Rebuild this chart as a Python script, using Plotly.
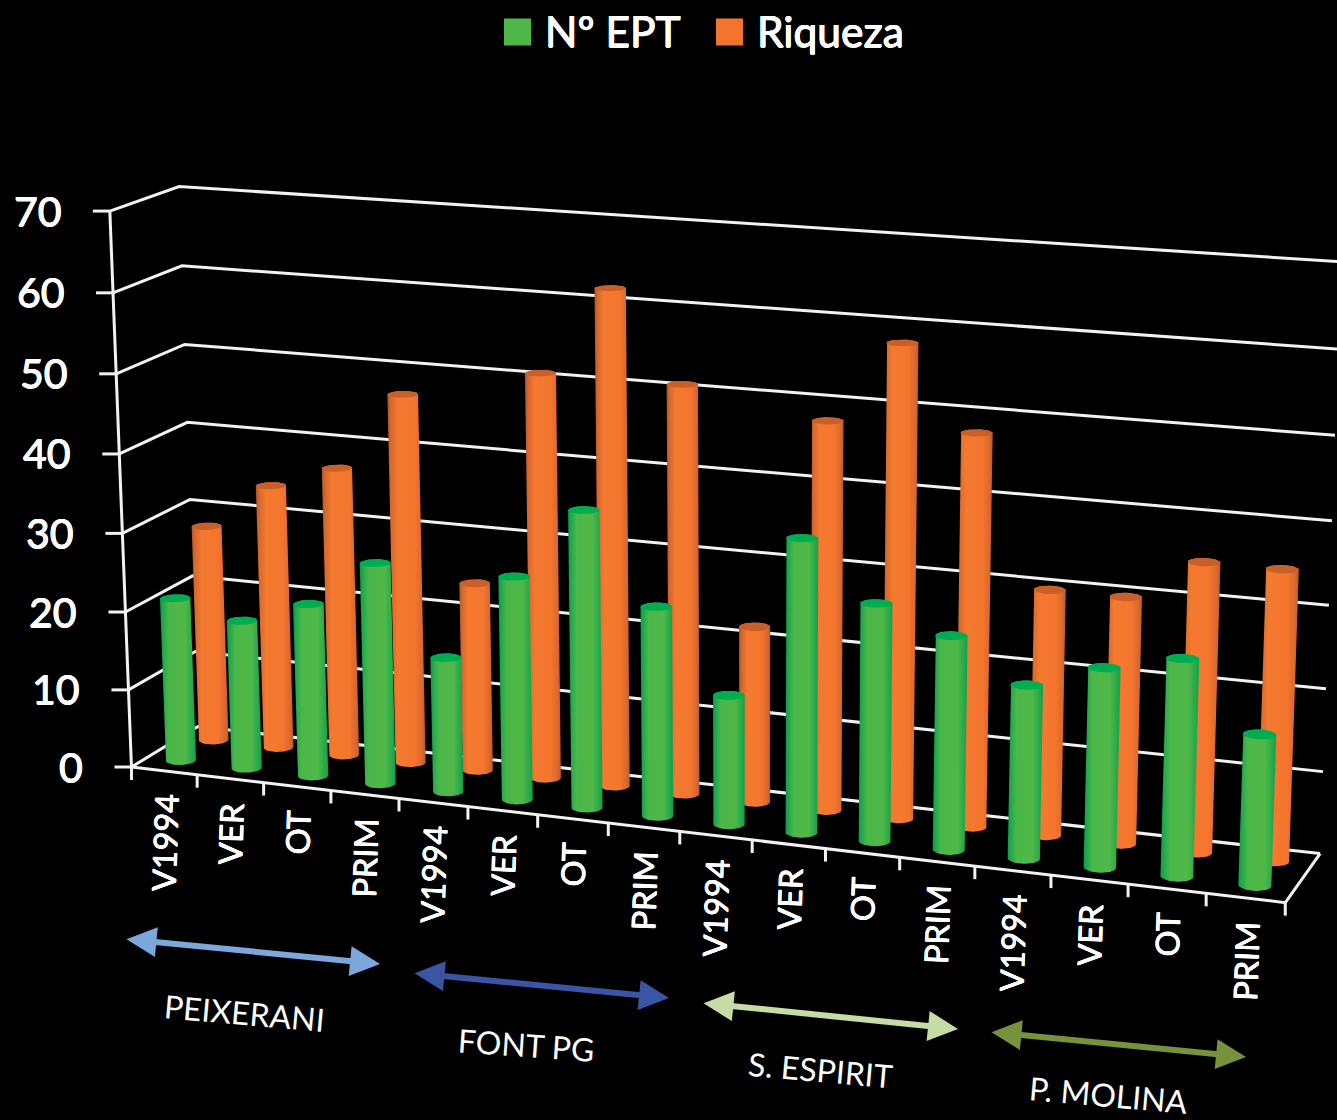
import numpy as np
import plotly.graph_objects as go

# ---- data ----
sites = ["PEIXERANI", "FONT PG", "S. ESPIRIT", "P. MOLINA"]
periods = ["V1994", "VER", "OT", "PRIM"]
categories = periods * 4
n_ept = [21, 19, 22, 28, 17, 28, 37, 26, 16, 36, 29, 26, 21, 24, 26, 18]
riqueza = [28, 34, 37, 47, 24, 51, 62, 51, 22, 48, 58, 48, 30, 30, 35, 35]
z_ticks = [0, 10, 20, 30, 40, 50, 60, 70]

# ---- perspective of the chart box: (category, row, value) -> page pixel ----
W, H = 1337, 1120
anchors = [
    ((0, 0, 0), (132, 767)), ((1, 0, 0), (196, 776)), ((4, 0, 0), (398, 798)),
    ((15, 0, 0), (1207, 893)), ((16, 0, 0), (1285, 902)), ((16, 2, 0), (1320, 853)),
    ((0, 2, 0), (199, 726)), ((0, 0, 70), (111, 211)), ((0, 2, 70), (178, 186)),
    ((16, 2, 70), (1341, 262)), ((0, 0, 60), (113, 293)), ((0, 2, 60), (182, 266)),
    ((16, 2, 10), (1323, 773)),
]


def calibrate(pairs):
    A, b = [], []
    for (x, y, z), (u, v) in pairs:
        x, y, z = x / 16, y / 2, z / 70
        A.append([x, y, z, 1, 0, 0, 0, 0, -u * x, -u * y, -u * z])
        b.append(u)
        A.append([0, 0, 0, 0, x, y, z, 1, -v * x, -v * y, -v * z])
        b.append(v)
    sol = np.linalg.lstsq(np.array(A, float), np.array(b, float), rcond=None)[0]
    return np.append(sol, 1.0).reshape(3, 4)


M = calibrate(anchors)


def project(x, y, z):
    p = M @ np.array([np.asarray(x, float) / 16, np.asarray(y, float) / 2,
                      np.asarray(z, float) / 70, np.ones_like(np.asarray(x, float))])
    return p[0] / p[2], p[1] / p[2]


def polyline(points):
    xs, ys = project(*np.array(points, float).T)
    return list(xs), list(ys)


def hull(pts):
    pts = sorted(set(map(tuple, pts)))

    def half(seq):
        out = []
        for p in seq:
            while len(out) > 1 and ((out[-1][0] - out[-2][0]) * (p[1] - out[-2][1])
                                    - (out[-1][1] - out[-2][1]) * (p[0] - out[-2][0])) <= 0:
                out.pop()
            out.append(p)
        return out[:-1]

    h = half(pts) + half(pts[::-1])
    return h + h[:1]


fig = go.Figure()

# ---- box lines ----
LINE = "#f2f2f2"
gx, gy = [], []
for z in z_ticks:
    xs, ys = polyline([(0, 0, z), (0, 2, z), (16, 2, z)])
    gx += xs + [None]
    gy += ys + [None]
    tx, ty = project(0, 0, z)
    gx += [float(tx) - 17, float(tx), None]
    gy += [float(ty), float(ty), None]
for pts in ([(0, 0, 0), (16, 0, 0), (16, 2, 0)], [(0, 0, 0), (0, 0, 70)]):
    xs, ys = polyline(pts)
    gx += xs + [None]
    gy += ys + [None]
for i in range(17):
    tx, ty = project(i, 0, 0)
    gx += [float(tx), float(tx), None]
    gy += [float(ty), float(ty) + 13, None]
fig.add_trace(go.Scatter(x=gx, y=gy, mode="lines", line=dict(color=LINE, width=3),
                         hoverinfo="skip", showlegend=False))

# ---- cylinders ----
GREEN = [[0, "#0f9a48"], [0.07, "#1ca64b"], [0.24, "#4bb749"], [0.7, "#50b848"],
         [0.92, "#22a84b"], [1, "#06a650"]]
ORANGE = [[0, "#a9562c"], [0.09, "#d8682c"], [0.28, "#f47a30"], [0.72, "#f4752e"],
          [0.92, "#d9682c"], [1, "#b05a2c"]]
R = 0.205
theta = np.linspace(0, 2 * np.pi, 48, endpoint=False)


def cylinder(i, row, value, scale, top_color, name):
    cx = i + 0.5 + R * np.cos(theta)
    cy = row + 0.5 + R * np.sin(theta)
    bx, by = project(cx, cy, np.zeros_like(cx))
    tx, ty = project(cx, cy, np.full_like(cx, value))
    outline = hull(list(zip(bx.round(2), by.round(2))) + list(zip(tx.round(2), ty.round(2))))
    fig.add_trace(go.Scatter(x=[p[0] for p in outline], y=[p[1] for p in outline],
                             mode="lines", line=dict(width=0), fill="toself",
                             fillgradient=dict(type="horizontal", colorscale=scale),
                             name=name, text=f"{categories[i]}: {value}", hoverinfo="text",
                             showlegend=False))
    fig.add_trace(go.Scatter(x=list(tx) + [tx[0]], y=list(ty) + [ty[0]], mode="lines",
                             line=dict(width=0), fill="toself", fillcolor=top_color,
                             hoverinfo="skip", showlegend=False))


for i, v in enumerate(riqueza):
    cylinder(i, 1, v, ORANGE, "#c9602a", "Riqueza")
for i, v in enumerate(n_ept):
    cylinder(i, 0, v, GREEN, "#00ad50", "Nº EPT")

anns = []
FONT = "Lato"
HEAVY = "0.5px 0 0 white, -0.5px 0 0 white, 0 0.5px 0 white, 0 -0.5px 0 white"
MEDIUM = "0.35px 0 0 white, -0.35px 0 0 white, 0 0.35px 0 white, 0 -0.35px 0 white"

# ---- value labels ----
for z in z_ticks:
    tx, ty = project(0, 0, z)
    anns.append(dict(x=float(tx) - 46, y=float(ty) - 1, text=str(z), showarrow=False,
                     xanchor="right", yanchor="middle",
                     font=dict(family=FONT, size=41, color="white", shadow=HEAVY)))

# ---- category labels ----
for i, c in enumerate(categories):
    tx, ty = project(i + 0.5, 0, 0)
    anns.append(dict(x=float(tx), y=float(ty) + 21, text=c, showarrow=False, textangle=-88,
                     xanchor="center", yanchor="top",
                     font=dict(family=FONT, size=32.5, color="white", shadow=MEDIUM)))

# ---- site arrows and names ----
arrows = [((125, 939), (380, 964), "#7ba7dc"), ((413, 973), (669, 998), "#3a55a4"),
          ((702, 1003), (958, 1029), "#c5dca5"), ((990, 1032), (1246, 1057), "#76923c")]
for (a, b, col) in arrows:
    anns.append(dict(x=b[0], y=b[1], ax=a[0], ay=a[1], axref="x", ayref="y", xref="x", yref="y",
                     text="", showarrow=True, arrowhead=2, arrowside="end+start",
                     arrowsize=1.0, arrowwidth=6, arrowcolor=col))
label_pos = [(244, 1012, 5), (526, 1044, 4), (820, 1069, 5), (1108, 1094, 5)]
for name, (lx, ly, ang) in zip(sites, label_pos):
    anns.append(dict(x=lx, y=ly, text=name, showarrow=False, textangle=ang,
                     font=dict(family=FONT, size=32, color="white")))

# ---- legend ----
for name, col, mx, tx in (("Nº EPT", "#4db848", 517.5, 543), ("Riqueza", "#f4732e", 729.5, 755)):
    fig.add_trace(go.Scatter(x=[mx], y=[32], mode="markers", name=name, showlegend=False,
                             marker=dict(symbol="square", size=27, color=col, line=dict(width=0)),
                             hoverinfo="name"))
    anns.append(dict(x=tx, y=30, text=name, showarrow=False, xanchor="left", yanchor="middle",
                     font=dict(family=FONT, size=42.5, color="white", shadow=HEAVY)))

fig.update_layout(
    width=W, height=H, margin=dict(l=0, r=0, t=0, b=0),
    paper_bgcolor="black", plot_bgcolor="black", showlegend=False,
    xaxis=dict(range=[0, W], visible=False, fixedrange=True),
    yaxis=dict(range=[H, 0], visible=False, fixedrange=True),
    annotations=anns,
)
fig.write_html("out.html", config=dict(displayModeBar=False),
               post_script="document.body.style.margin='0';document.body.style.background='black';")
